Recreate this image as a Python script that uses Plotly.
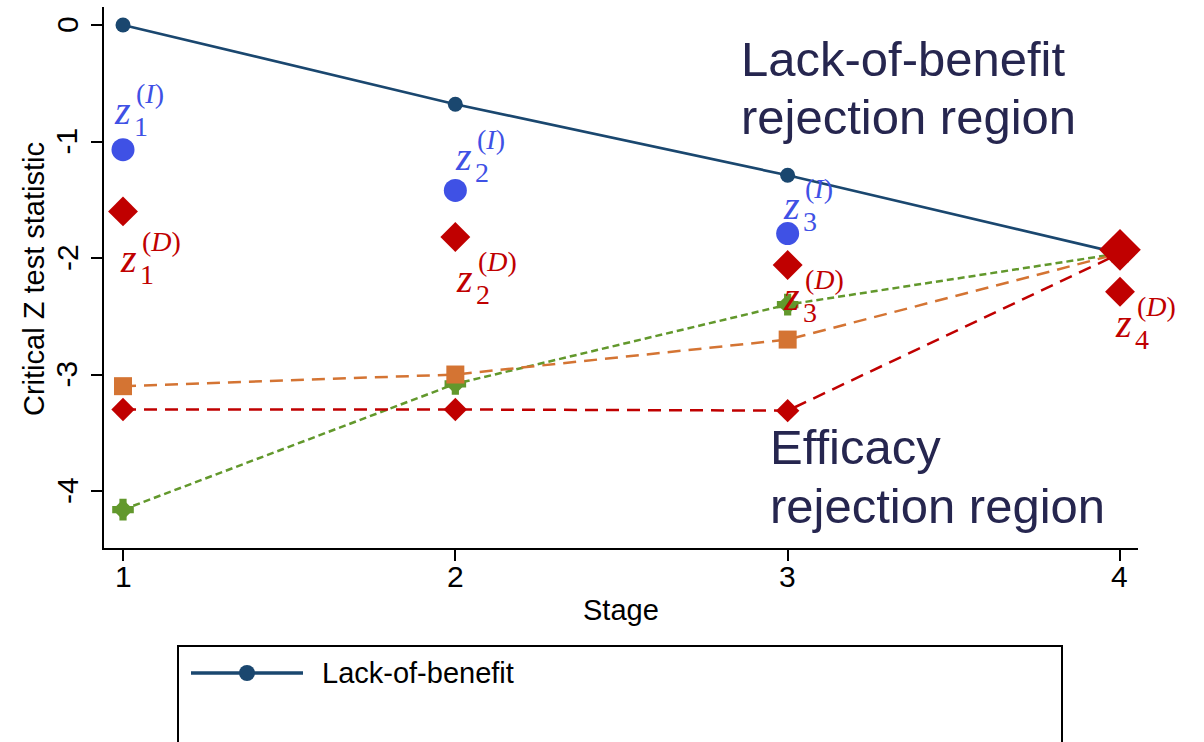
import plotly.graph_objects as go

# ---- data -------------------------------------------------------------
stages = [1, 2, 3, 4]
interim_stages = [1, 2, 3]

lack_of_benefit = [0.0, -0.68, -1.29, -1.96]     # lack-of-benefit boundary
z_interim = [-1.07, -1.42, -1.79]                # observed Z^(I), stages 1-3
z_decision = [-1.60, -1.82, -2.06, -2.29]        # observed Z^(D), stages 1-4
eff_orange = [-3.10, -3.00, -2.70, -1.96]        # efficacy boundary (squares)
eff_red = [-3.30, -3.30, -3.31, -1.96]           # efficacy boundary (diamonds)
eff_green = [-4.16, -3.08, -2.40, -1.96]         # efficacy boundary (crosses)
final_stage = [4]
final_boundary = [-1.93]

x_ticks = [1, 2, 3, 4]
x_tick_text = ["1", "2", "3", "4"]
y_ticks = [0, -1, -2, -3, -4]
y_tick_text = ["0", "-1", "-2", "-3", "-4"]

interim_names = ["1", "2", "3"]
decision_names = ["1", "2", "3", "4"]

# ---- styling / geometry ----------------------------------------------
W, H = 1204, 742
ML, MR, MT, MB = 104, 66, 7, 194
X_RANGE = [0.9428, 4.0542]
Y_RANGE = [-4.489, 0.1545]

NAVY = "#1a476f"
BLUE = "#3f51e5"
RED = "#c00000"
ORANGE = "#d47433"
GREEN = "#62982c"
TEXT_DARK = "#26264f"
SANS = "Liberation Sans, Arial, sans-serif"
SERIF = "Liberation Serif, DejaVu Serif, serif"


def px_x(px):
    return (px - ML) / (W - ML - MR)


def px_y(py):
    return (H - MB - py) / (H - MT - MB)


fig = go.Figure()

# efficacy boundaries (dashed)
fig.add_trace(go.Scatter(
    x=stages, y=eff_green, mode="lines+markers",
    line=dict(color=GREEN, width=2.5, dash="7px,4px"),
    marker=dict(symbol="diamond", size=16, color=GREEN),
    cliponaxis=False, showlegend=False))
fig.add_trace(go.Scatter(
    x=stages[:3], y=eff_green[:3], mode="markers",
    marker=dict(symbol="cross", size=18, color=GREEN),
    cliponaxis=False, showlegend=False))
fig.add_trace(go.Scatter(
    x=stages, y=eff_orange, mode="lines+markers",
    line=dict(color=ORANGE, width=2.5, dash="13px,8px"),
    marker=dict(symbol="square", size=18, color=ORANGE),
    cliponaxis=False, showlegend=False))
fig.add_trace(go.Scatter(
    x=stages, y=eff_red, mode="lines+markers",
    line=dict(color=RED, width=2.5, dash="13px,8px"),
    marker=dict(symbol="diamond", size=18, color=RED),
    cliponaxis=False, showlegend=False))

# lack-of-benefit boundary
fig.add_trace(go.Scatter(
    x=stages, y=lack_of_benefit, mode="lines+markers", name="Lack-of-benefit",
    line=dict(color=NAVY, width=2.7),
    marker=dict(symbol="circle", size=15, color=NAVY),
    cliponaxis=False, showlegend=False))

# observed statistics
fig.add_trace(go.Scatter(
    x=interim_stages, y=z_interim, mode="markers",
    marker=dict(symbol="circle", size=23, color=BLUE),
    cliponaxis=False, showlegend=False))
fig.add_trace(go.Scatter(
    x=stages, y=z_decision, mode="markers",
    marker=dict(symbol="diamond", size=23, color=RED),
    cliponaxis=False, showlegend=False))
fig.add_trace(go.Scatter(
    x=final_stage, y=final_boundary, mode="markers",
    marker=dict(symbol="diamond", size=32, color=RED),
    cliponaxis=False, showlegend=False))

annotations = []

# z labels: (stage, value, subscript, superscript, colour, x offset, baseline offset)
Z_SIZE, S_SIZE = 40, 28
label_specs = []
interim_offsets = [(-11, -25), (-2, -20), (-7, -14)]
decision_offsets = [(-5, 61), (-1, 55), (-7, 45), (-7, 46)]
for s, v, n, (ox, ob) in zip(interim_stages, z_interim, interim_names, interim_offsets):
    label_specs.append((s, v, n, "(<i>I</i>)", BLUE, ox, ob))
for s, v, n, (ox, ob) in zip(stages, z_decision, decision_names, decision_offsets):
    label_specs.append((s, v, n, "(<i>D</i>)", RED, ox, ob))

for s, v, n, sup, col, ox, ob in label_specs:
    common = dict(x=s, y=v, xref="x", yref="y", showarrow=False,
                  xanchor="left", yanchor="middle")
    annotations.append(dict(common, text="<i>z</i>",
                            font=dict(family=SERIF, size=Z_SIZE, color=col),
                            xshift=ox, yshift=-(ob - 0.35 * Z_SIZE)))
    annotations.append(dict(common, text=n,
                            font=dict(family=SERIF, size=S_SIZE, color=col),
                            xshift=ox + 20, yshift=-(ob + 2)))
    annotations.append(dict(common, text=sup,
                            font=dict(family=SERIF, size=S_SIZE, color=col),
                            xshift=ox + 22, yshift=-(ob - 31)))

# region captions
BIG = 49
for txt, left, base in [("Lack-of-benefit", 739, 76), ("rejection region", 739, 134),
                        ("Efficacy", 768, 464), ("rejection region", 768, 523)]:
    annotations.append(dict(text=txt, xref="paper", yref="paper",
                            x=px_x(left), y=px_y(base - 0.35 * BIG),
                            xanchor="left", yanchor="middle", showarrow=False,
                            font=dict(family=SANS, size=BIG, color=TEXT_DARK)))

# tick labels (placed a little closer to the axes than the default)
TICK_FONT = dict(family=SANS, size=30, color="black")
for t, txt in zip(x_ticks, x_tick_text):
    annotations.append(dict(text=txt, x=t, xref="x", y=px_y(576), yref="paper",
                            xanchor="center", yanchor="middle", showarrow=False,
                            font=TICK_FONT))
for t, txt in zip(y_ticks, y_tick_text):
    annotations.append(dict(text=txt, x=px_x(67), xref="paper", y=t, yref="y",
                            xanchor="center", yanchor="middle", textangle=-90,
                            showarrow=False, font=TICK_FONT))

# axis titles
annotations.append(dict(text="Stage", xref="paper", yref="paper",
                        x=px_x(621), y=px_y(610), xanchor="center", yanchor="middle",
                        showarrow=False, font=dict(family=SANS, size=29, color="black")))
annotations.append(dict(text="Critical Z test statistic", xref="paper", yref="paper",
                        x=px_x(34), y=px_y(279), xanchor="center", yanchor="middle",
                        textangle=-90, showarrow=False,
                        font=dict(family=SANS, size=29, color="black")))

# legend box with the lack-of-benefit key
annotations.append(dict(text="Lack-of-benefit", xref="paper", yref="paper",
                        x=px_x(320), y=px_y(673), xanchor="left", yanchor="middle",
                        showarrow=False, font=dict(family=SANS, size=29, color="black")))
shapes = [
    dict(type="rect", xref="paper", yref="paper",
         x0=px_x(178), x1=px_x(1062), y0=px_y(646), y1=px_y(800),
         line=dict(color="black", width=2), fillcolor="rgba(0,0,0,0)"),
    dict(type="line", xref="paper", yref="paper",
         x0=px_x(191), x1=px_x(303), y0=px_y(673), y1=px_y(673),
         line=dict(color=NAVY, width=3.5)),
    dict(type="circle", xref="paper", yref="paper",
         xsizemode="pixel", ysizemode="pixel",
         xanchor=px_x(247), yanchor=px_y(673),
         x0=-8, x1=8, y0=-8, y1=8,
         line=dict(color=NAVY, width=0), fillcolor=NAVY),
]

fig.update_layout(
    width=W, height=H,
    margin=dict(l=ML, r=MR, t=MT, b=MB, pad=0),
    paper_bgcolor="white", plot_bgcolor="white",
    showlegend=False,
    annotations=annotations, shapes=shapes,
    xaxis=dict(range=X_RANGE, tickvals=x_ticks, showticklabels=False,
               showline=True, linecolor="black", linewidth=2,
               ticks="outside", ticklen=11, tickwidth=2, tickcolor="black",
               showgrid=False, zeroline=False),
    yaxis=dict(range=Y_RANGE, tickvals=y_ticks, showticklabels=False,
               showline=True, linecolor="black", linewidth=2,
               ticks="outside", ticklen=11, tickwidth=2, tickcolor="black",
               showgrid=False, zeroline=False),
)

fig.write_html("out.html")
